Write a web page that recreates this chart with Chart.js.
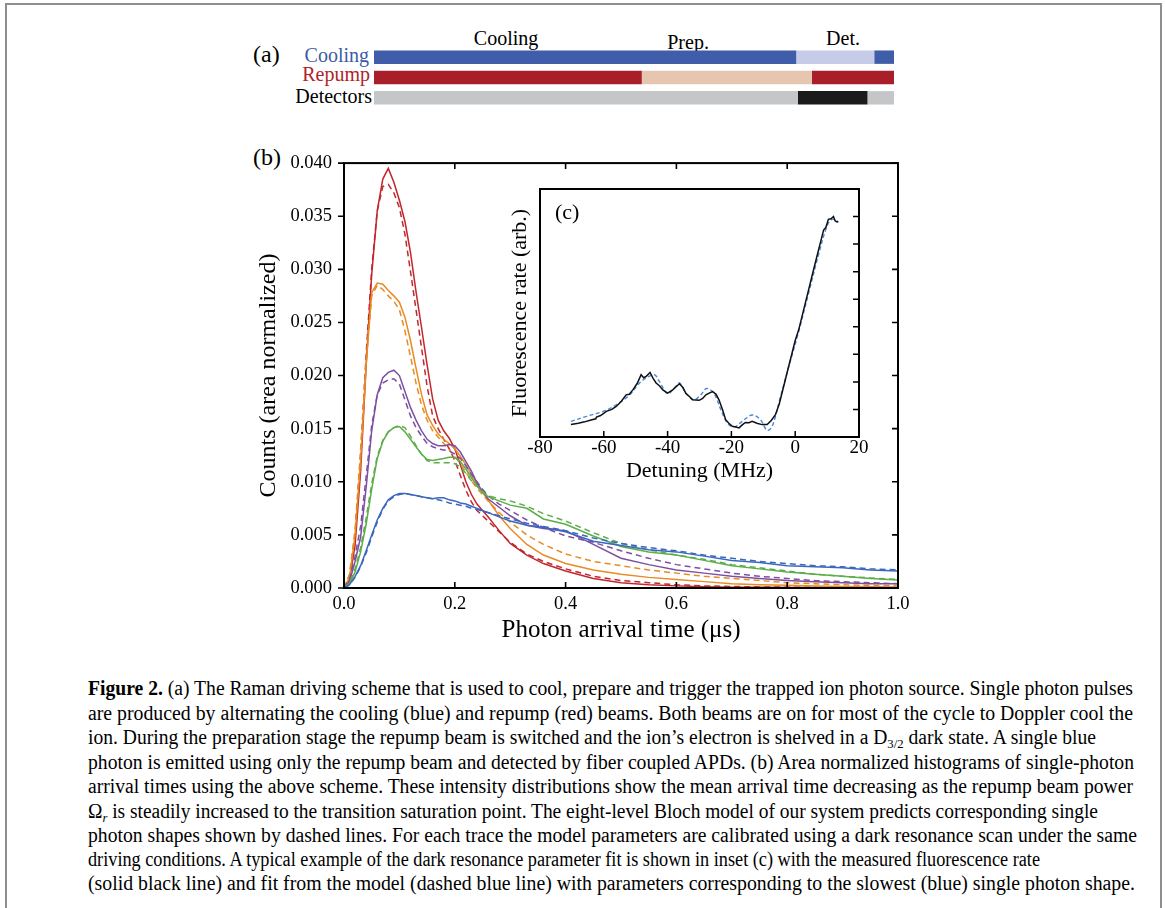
<!DOCTYPE html>
<html><head><meta charset="utf-8">
<script src="https://cdn.jsdelivr.net/npm/chart.js@4.4.1/dist/chart.umd.min.js"></script>
<style>
html,body{margin:0;padding:0;background:#fff;}
#page{position:relative;width:1165px;height:908px;overflow:hidden;font-family:'Liberation Serif','Times New Roman',serif;color:#000;background:#fff;}
.abs{position:absolute;white-space:nowrap;line-height:1;}
canvas{position:absolute;}
#frame{position:absolute;left:5px;top:3px;width:1157px;height:960px;box-sizing:border-box;border:2px solid #8e8e8e;}
.cap{position:absolute;left:88px;font-size:20px;line-height:22px;white-space:nowrap;transform-origin:0 50%;}
.cap sub{font-size:13px;vertical-align:-4px;line-height:0;}
</style></head>
<body><div id="page">
<div id="frame"></div>

<div class="abs" style="left:253px;top:42px;font-size:24px;">(a)</div>
<div class="abs" style="right:796px;top:45px;font-size:20px;color:#3c5aa6;">Cooling</div>
<div class="abs" style="right:795px;top:64px;font-size:20px;color:#b0222c;">Repump</div>
<div class="abs" style="right:793px;top:86px;font-size:20px;">Detectors</div>
<div class="abs" id="tl1" style="top:28px;font-size:20px;">Cooling</div>
<div class="abs" id="tl2" style="top:32px;font-size:20px;">Prep.</div>
<div class="abs" id="tl3" style="top:28px;font-size:20px;">Det.</div>
<div class="abs" style="left:253px;top:145px;font-size:24px;">(b)</div>

<canvas id="scheme" width="520" height="61" style="left:374px;top:47px;width:520px;height:61px;"></canvas>
<canvas id="main" width="700" height="518" style="left:240px;top:140px;width:700px;height:518px;"></canvas>
<canvas id="inset" width="380" height="307" style="left:500px;top:180px;width:380px;height:307px;"></canvas>
<div class="abs" style="left:555px;top:201px;font-size:22px;">(c)</div>

<div class="cap" style="top:677px;"><b>Figure 2.</b> (a) The Raman driving scheme that is used to cool, prepare and trigger the trapped ion photon source. Single photon pulses</div>
<div class="cap" style="top:702px;">are produced by alternating the cooling (blue) and repump (red) beams. Both beams are on for most of the cycle to Doppler cool the</div>
<div class="cap" style="top:726px;">ion. During the preparation stage the repump beam is switched and the ion’s electron is shelved in a D<sub>3/2</sub> dark state. A single blue</div>
<div class="cap" style="top:751px;">photon is emitted using only the repump beam and detected by fiber coupled APDs. (b) Area normalized histograms of single-photon</div>
<div class="cap" style="top:775px;">arrival times using the above scheme. These intensity distributions show the mean arrival time decreasing as the repump beam power</div>
<div class="cap" style="top:800px;">Ω<sub><i>r</i></sub> is steadily increased to the transition saturation point. The eight-level Bloch model of our system predicts corresponding single</div>
<div class="cap" style="top:824px;">photon shapes shown by dashed lines. For each trace the model parameters are calibrated using a dark resonance scan under the same</div>
<div class="cap" style="top:848px;">driving conditions. A typical example of the dark resonance parameter fit is shown in inset (c) with the measured fluorescence rate</div>
<div class="cap" style="top:872px;">(solid black line) and fit from the model (dashed blue line) with parameters corresponding to the slowest (blue) single photon shape.</div>
</div>

<script>
// ---------------- DATA ----------------
// (a) timing scheme, time in % of cycle
const schemeRows = ['Cooling', 'Repump', 'Detectors'];
const seg1 = [[0, 81.2], [0, 51.5], [0, 81.5]];
const seg2 = [[81.2, 96.2], [51.5, 84.2], [81.5, 94.9]];
const seg3 = [[96.2, 100], [84.2, 100], [94.9, 100]];
const stageLabels = ['Cooling', 'Prep.', 'Det.'];
const stageCenters = [25.4, 60.4, 90.2];

// (b) photon arrival time (us)
const arrivalTime = [0, 0.01, 0.02, 0.03, 0.04, 0.05, 0.06, 0.07, 0.08, 0.09, 0.10, 0.11, 0.12, 0.13, 0.14, 0.15, 0.16, 0.17, 0.18, 0.19, 0.20, 0.21, 0.22, 0.23, 0.24, 0.25, 0.26, 0.28, 0.30, 0.33, 0.36, 0.40, 0.45, 0.50, 0.55, 0.60, 0.65, 0.70, 0.75, 0.80, 0.85, 0.90, 0.95, 1.00];
const redMeasured = [0, 0.0008, 0.004, 0.011, 0.021, 0.0295, 0.0355, 0.0385, 0.0395, 0.0382, 0.0365, 0.0345, 0.0316, 0.0279, 0.0245, 0.021, 0.0178, 0.0158, 0.0148, 0.0141, 0.0131, 0.0116, 0.0100, 0.0088, 0.0079, 0.0073, 0.0067, 0.0054, 0.0042, 0.0031, 0.0023, 0.0016, 0.0009, 0.0005, 0.0003, 0.0002, 0.00012, 0.00008, 0.00006, 0.00005, 0.00004, 0.00003, 0.00003, 0.00002];
const redModel = [0, 0.0012, 0.005, 0.0125, 0.022, 0.030, 0.0355, 0.0378, 0.038, 0.0372, 0.0358, 0.0333, 0.0298, 0.0262, 0.0226, 0.019, 0.0162, 0.0150, 0.0140, 0.0131, 0.0120, 0.0106, 0.0092, 0.0081, 0.0073, 0.0068, 0.0063, 0.0053, 0.0043, 0.0032, 0.0025, 0.0018, 0.0011, 0.0007, 0.0005, 0.0003, 0.0002, 0.00015, 0.0001, 0.00008, 0.00006, 0.00005, 0.00004, 0.00003];
const orangeMeasured = [0, 0.001, 0.005, 0.012, 0.021, 0.0278, 0.0287, 0.0286, 0.0280, 0.0275, 0.0269, 0.0255, 0.0233, 0.0207, 0.0182, 0.0163, 0.0153, 0.0145, 0.0140, 0.0136, 0.0131, 0.0124, 0.0116, 0.0107, 0.0098, 0.0090, 0.0083, 0.0068, 0.0056, 0.0041, 0.0031, 0.0023, 0.0017, 0.0013, 0.0010, 0.0008, 0.0006, 0.0004, 0.0003, 0.00025, 0.0002, 0.00015, 0.00012, 0.0001];
const orangeModel = [0, 0.0013, 0.0055, 0.013, 0.0215, 0.0275, 0.0285, 0.0281, 0.0275, 0.0270, 0.0262, 0.0242, 0.0218, 0.0193, 0.0172, 0.0158, 0.0148, 0.0142, 0.0136, 0.0130, 0.0124, 0.0117, 0.0109, 0.0101, 0.0094, 0.0088, 0.0082, 0.0071, 0.0062, 0.0050, 0.0041, 0.0032, 0.0025, 0.0021, 0.0017, 0.0014, 0.0011, 0.0009, 0.0007, 0.0005, 0.0004, 0.0003, 0.00025, 0.0002];
const purpleMeasured = [0, 0.0006, 0.0025, 0.0048, 0.0095, 0.0148, 0.0182, 0.0198, 0.0203, 0.0205, 0.0200, 0.0185, 0.0170, 0.0158, 0.0148, 0.0140, 0.0136, 0.0134, 0.0134, 0.0135, 0.0134, 0.0128, 0.0119, 0.0110, 0.0099, 0.0091, 0.0084, 0.0076, 0.0068, 0.0059, 0.0056, 0.0054, 0.0041, 0.0028, 0.0022, 0.0017, 0.0014, 0.0011, 0.0009, 0.0007, 0.0006, 0.0005, 0.0004, 0.0004];
const purpleModel = [0, 0.0008, 0.003, 0.0058, 0.0105, 0.0153, 0.0182, 0.0193, 0.0196, 0.0197, 0.0192, 0.0177, 0.0162, 0.0151, 0.0143, 0.0136, 0.0133, 0.0131, 0.0130, 0.0129, 0.0126, 0.0122, 0.0115, 0.0107, 0.0100, 0.0093, 0.0087, 0.0079, 0.0073, 0.0064, 0.0057, 0.0049, 0.0043, 0.0035, 0.0028, 0.0022, 0.0018, 0.0014, 0.0011, 0.0009, 0.0007, 0.0006, 0.0005, 0.0004];
const greenMeasured = [0, 0.0004, 0.0015, 0.0034, 0.006, 0.0093, 0.0122, 0.0138, 0.0147, 0.0151, 0.0152, 0.0147, 0.0140, 0.0133, 0.0126, 0.0121, 0.0120, 0.0121, 0.0122, 0.0123, 0.0123, 0.0119, 0.0112, 0.0104, 0.0096, 0.0090, 0.0086, 0.0082, 0.0078, 0.0075, 0.0065, 0.0060, 0.0049, 0.0039, 0.0034, 0.0031, 0.0026, 0.0021, 0.0018, 0.0015, 0.0013, 0.0011, 0.0009, 0.00075];
const greenModel = [0, 0.0005, 0.0018, 0.0038, 0.0066, 0.0098, 0.0124, 0.0139, 0.0147, 0.0151, 0.0153, 0.0151, 0.0143, 0.0134, 0.0126, 0.0120, 0.0118, 0.0118, 0.0118, 0.0118, 0.0117, 0.0114, 0.0108, 0.0101, 0.0096, 0.0091, 0.0087, 0.0084, 0.0082, 0.0077, 0.0070, 0.0063, 0.0052, 0.0042, 0.0036, 0.0031, 0.0027, 0.0022, 0.0019, 0.0016, 0.0013, 0.0011, 0.00095, 0.0008];
const blueMeasured = [0, 0.0003, 0.0011, 0.0021, 0.0035, 0.005, 0.0064, 0.0075, 0.0083, 0.0087, 0.0089, 0.0089, 0.0088, 0.0087, 0.0086, 0.0085, 0.0084, 0.0085, 0.0085, 0.0083, 0.0082, 0.0080, 0.0079, 0.0077, 0.0075, 0.0073, 0.0071, 0.0067, 0.0063, 0.0059, 0.0057, 0.0053, 0.0044, 0.0040, 0.0036, 0.0034, 0.0030, 0.0026, 0.0024, 0.0021, 0.0020, 0.0019, 0.0017, 0.0016];
const blueModel = [0, 0.0003, 0.001, 0.002, 0.0033, 0.0048, 0.0062, 0.0074, 0.0082, 0.0086, 0.0088, 0.0089, 0.0088, 0.0087, 0.0086, 0.0085, 0.0084, 0.0083, 0.0082, 0.0080, 0.0079, 0.0078, 0.0077, 0.0075, 0.0074, 0.0072, 0.0071, 0.0068, 0.0065, 0.0061, 0.0058, 0.0054, 0.0047, 0.0042, 0.0038, 0.0035, 0.0031, 0.0028, 0.0025, 0.0023, 0.0021, 0.0020, 0.0018, 0.0017];
const mainXTickLabels = ['0.0', '0.2', '0.4', '0.6', '0.8', '1.0'];
const mainYTickLabels = ['0.000', '0.005', '0.010', '0.015', '0.020', '0.025', '0.030', '0.035', '0.040'];

// (c) dark resonance scan
const detuningMeasured = [-70.3, -68, -66, -64, -62.5, -62.3, -61, -59.2, -57.5, -56.1, -54.5, -53, -52, -50.9, -49.5, -48.3, -47.5, -46.7, -45.5, -44.5, -43.6, -42.5, -41.5, -40, -38.4, -36.3, -35.2, -34.3, -33, -32.2, -30.1, -29, -28, -26.8, -25.9, -24.8, -23.9, -22.8, -21.8, -20.8, -19.7, -18.6, -17.6, -16.5, -15.6, -14.5, -13.5, -12, -10.4, -8.8, -7.5, -6.2, -5, -3.6, -2.3, -1, 0, 1.1, 2.5, 4.2, 5.5, 6.8, 8, 8.9, 9.6, 10.4, 11.2, 12, 12.5, 13, 13.5];
const fluorMeasured = [0.45, 0.5, 0.55, 0.62, 0.66, 0.72, 0.78, 0.93, 1.0, 1.11, 1.3, 1.53, 1.55, 1.71, 1.95, 2.26, 2.15, 2.2, 2.34, 2.12, 1.96, 1.85, 1.71, 1.59, 1.71, 1.93, 1.8, 1.59, 1.45, 1.35, 1.33, 1.4, 1.53, 1.6, 1.65, 1.55, 1.35, 1.0, 0.63, 0.5, 0.39, 0.36, 0.33, 0.45, 0.53, 0.52, 0.57, 0.5, 0.45, 0.45, 0.6, 0.81, 1.2, 1.84, 2.45, 3.04, 3.5, 3.89, 4.55, 5.34, 5.95, 6.55, 7.1, 7.51, 7.6, 7.9, 7.92, 8.0, 7.85, 7.81, 7.8];
const detuningModel = [-70.3, -65.4, -60.2, -56.1, -51.9, -48.8, -46.7, -44.1, -42.6, -40, -37.9, -36.3, -34.3, -31.7, -29.6, -27.8, -25.5, -23.3, -21.3, -19.2, -16.6, -13.5, -10.9, -8.8, -7.2, -4.6, -2, 1.1, 4.2, 7.3, 9.9, 11.5, 13.5];
const fluorModel = [0.57, 0.75, 0.93, 1.17, 1.53, 1.96, 2.14, 2.26, 2.02, 1.57, 1.78, 1.96, 1.59, 1.35, 1.53, 1.76, 1.59, 0.99, 0.51, 0.36, 0.57, 0.8, 0.63, 0.24, 0.39, 1.47, 2.56, 3.83, 5.22, 6.61, 7.63, 7.9, 7.81];
const insetXTickLabels = ['-80', '-60', '-40', '-20', '0', '20'];

// ---------------- STYLE ----------------
const FONT = "'Liberation Serif','Times New Roman',serif";
Chart.defaults.font.family = FONT;
Chart.defaults.color = '#000';
const seriesColors = {red: '#c1272d', orange: '#ea8a20', purple: '#7d4fa2', green: '#5dae4a', blue: '#3b67bf'};
const segColors1 = ['#3f5da8', '#a81f29', '#c5c6c8'];
const segColors2 = ['#c6cbe8', '#e6c5b1', '#1b1b1b'];
const segColors3 = ['#3f5da8', '#a81f29', '#c5c6c8'];

// plugin: box frame with tick marks drawn through the chart's scales
const frameTicks = {
  id: 'frameTicks',
  afterDraw(chart, args, o) {
    const {ctx, chartArea: a} = chart;
    const xs = chart.scales.x, ys = chart.scales.y;
    const L = o.len;
    ctx.save();
    ctx.strokeStyle = '#000';
    ctx.lineWidth = o.tickWidth;
    ctx.beginPath();
    const xv = xs.ticks.map(t => xs.getPixelForValue(t.value));
    const yv = ys.ticks.map(t => ys.getPixelForValue(t.value));
    if (o.bottom) xv.forEach(p => { ctx.moveTo(p, a.bottom); ctx.lineTo(p, a.bottom + (o.bottom === 'in' ? -L : L)); });
    if (o.top) xv.forEach(p => { ctx.moveTo(p, a.top); ctx.lineTo(p, a.top + (o.top === 'in' ? L : -L)); });
    if (o.left) yv.forEach(p => { ctx.moveTo(a.left, p); ctx.lineTo(a.left + (o.left === 'in' ? L : -L), p); });
    if (o.right) yv.forEach(p => { ctx.moveTo(a.right, p); ctx.lineTo(a.right + (o.right === 'in' ? -L : L), p); });
    ctx.stroke();
    ctx.lineWidth = o.lineWidth;
    ctx.strokeRect(a.left, a.top, a.right - a.left, a.bottom - a.top);
    ctx.restore();
  }
};

// ---------------- (a) scheme ----------------
new Chart(document.getElementById('scheme'), {
  type: 'bar',
  data: {
    labels: schemeRows,
    datasets: [
      {data: seg1, backgroundColor: segColors1},
      {data: seg2, backgroundColor: segColors2},
      {data: seg3, backgroundColor: segColors3}
    ]
  },
  options: {
    indexAxis: 'y', responsive: false, animation: false,
    layout: {padding: 0},
    datasets: {bar: {grouped: false, categoryPercentage: 1, barPercentage: 0.66, borderWidth: 0, borderSkipped: false}},
    scales: {x: {display: false, min: 0, max: 100}, y: {display: false}},
    plugins: {legend: {display: false}, tooltip: {enabled: false}}
  }
});
// stage labels centred at fractions of the bar
['tl1', 'tl2', 'tl3'].forEach((id, i) => {
  const el = document.getElementById(id);
  el.textContent = stageLabels[i];
  const w = el.getBoundingClientRect().width;
  el.style.left = (374 + 520 * stageCenters[i] / 100 - w / 2) + 'px';
});

// ---------------- (b) main ----------------
function lineDs(vals, color, dashed) {
  return {
    data: arrivalTime.map((t, i) => ({x: t, y: vals[i]})),
    borderColor: color, borderWidth: 1.5, borderDash: dashed ? [6, 4] : [],
    pointRadius: 0, tension: 0, fill: false
  };
}
new Chart(document.getElementById('main'), {
  type: 'line',
  data: {datasets: [
    lineDs(blueMeasured, seriesColors.blue, false), lineDs(blueModel, seriesColors.blue, true),
    lineDs(greenMeasured, seriesColors.green, false), lineDs(greenModel, seriesColors.green, true),
    lineDs(purpleMeasured, seriesColors.purple, false), lineDs(purpleModel, seriesColors.purple, true),
    lineDs(orangeMeasured, seriesColors.orange, false), lineDs(orangeModel, seriesColors.orange, true),
    lineDs(redMeasured, seriesColors.red, false), lineDs(redModel, seriesColors.red, true)
  ]},
  options: {
    responsive: false, animation: false,
    layout: {padding: {left: 0, top: 20, right: 42, bottom: 0}},
    scales: {
      x: {
        type: 'linear', min: 0, max: 1,
        ticks: {stepSize: 0.2, autoSkip: false, maxRotation: 0, padding: 5, font: {size: 18.5}, color: '#000',
          callback: (v, i) => mainXTickLabels[i]},
        grid: {display: false, drawTicks: false}, border: {display: false},
        title: {display: true, text: 'Photon arrival time (μs)', font: {size: 25}, color: '#000', padding: {top: 0, bottom: 13}},
        afterFit(s) { s.height = 70; }
      },
      y: {
        type: 'linear', min: 0, max: 0.04,
        ticks: {stepSize: 0.005, autoSkip: false, padding: 12, font: {size: 18.5}, color: '#000',
          callback: (v, i) => mainYTickLabels[i]},
        grid: {display: false, drawTicks: false}, border: {display: false},
        title: {display: true, text: 'Counts (area normalized)', font: {size: 24}, color: '#000', padding: {top: 14, bottom: 0}},
        afterFit(s) { s.width = 104; }
      }
    },
    plugins: {legend: {display: false}, tooltip: {enabled: false},
      frameTicks: {len: 6, tickWidth: 1.6, lineWidth: 2, left: 'out', right: 'in', top: 'in', bottom: 'in'}}
  },
  plugins: [frameTicks]
});

// ---------------- (c) inset ----------------
new Chart(document.getElementById('inset'), {
  type: 'line',
  data: {datasets: [
    {data: detuningMeasured.map((d, i) => ({x: d, y: fluorMeasured[i]})), borderColor: '#111', borderWidth: 1.5, pointRadius: 0, tension: 0},
    {data: detuningModel.map((d, i) => ({x: d, y: fluorModel[i]})), borderColor: '#4a88dc', borderWidth: 1.4, borderDash: [4, 2.5], pointRadius: 0, tension: 0.35}
  ]},
  options: {
    responsive: false, animation: false,
    layout: {padding: {left: 0, top: 9, right: 21, bottom: 0}},
    scales: {
      x: {
        type: 'linear', min: -80, max: 20,
        ticks: {stepSize: 20, autoSkip: false, maxRotation: 0, padding: 0, font: {size: 19}, color: '#000',
          callback: (v, i) => insetXTickLabels[i]},
        grid: {display: false, drawTicks: false}, border: {display: false},
        title: {display: true, text: 'Detuning (MHz)', font: {size: 22}, color: '#000', padding: {top: 0, bottom: 3}},
        afterFit(s) { s.height = 50; }
      },
      y: {
        type: 'linear', min: 0, max: 9,
        ticks: {stepSize: 1, display: false},
        grid: {display: false, drawTicks: false}, border: {display: false},
        title: {display: true, text: 'Fluorescence rate (arb.)', font: {size: 22}, color: '#000', padding: {top: 7, bottom: 0}},
        afterFit(s) { s.width = 40; }
      }
    },
    plugins: {legend: {display: false}, tooltip: {enabled: false},
      frameTicks: {len: 6, tickWidth: 1.5, lineWidth: 2, right: 'in', bottom: 'in'}}
  },
  plugins: [frameTicks]
});

// caption: fit each line to the reference line length
const capEnds = [1133, 1133, 1096, 1134, 1133, 1098, 1137, 1040, 1135];
document.querySelectorAll('.cap').forEach((el, i) => {
  const w = el.getBoundingClientRect().width;
  el.style.transform = 'scaleX(' + ((capEnds[i] - 88) / w) + ')';
});
</script>
</body></html>
